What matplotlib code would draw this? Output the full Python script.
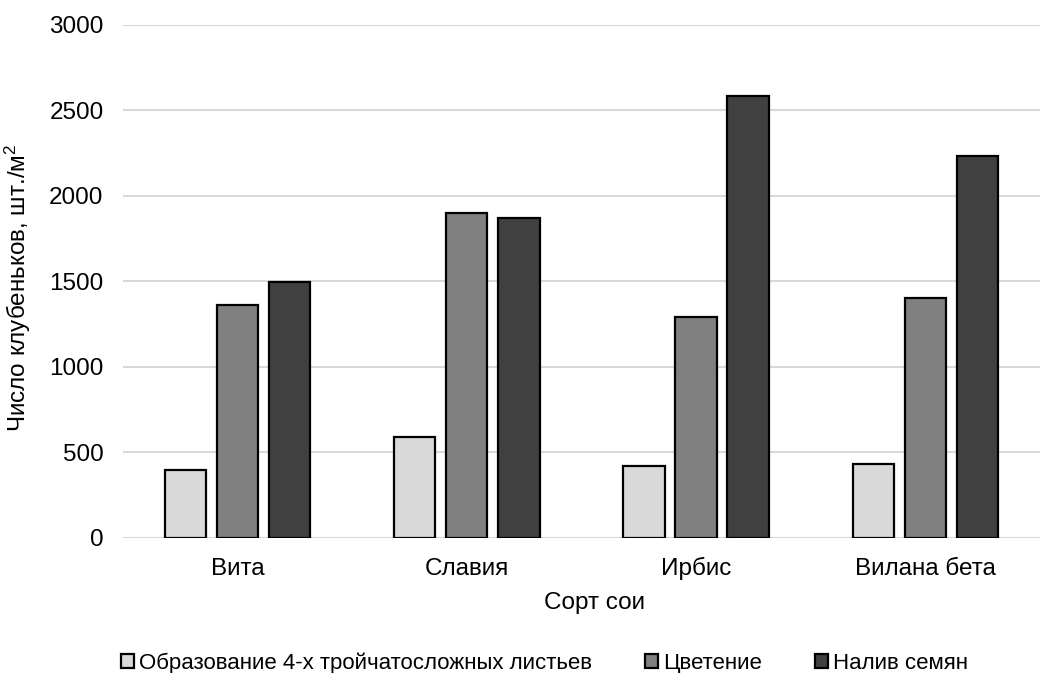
import matplotlib as mpl
import numpy as np

mpl.use("Agg")
from matplotlib import pyplot as plt

plt.rcParams['font.family'] = ['Liberation Sans', 'DejaVu Sans']
plt.rcParams['mathtext.fontset'] = 'custom'
plt.rcParams['mathtext.rm'] = 'Liberation Sans'
plt.rcParams['mathtext.default'] = 'rm'

varieties = ["Вита", "Славия", "Ирбис", "Вилана бета"]
series_names = ["Образование 4-х тройчатосложных листьев", "Цветение", "Налив семян"]
leaf_stage = [398, 593, 421, 433]
flowering = [1362, 1898, 1295, 1401]
seed_fill = [1499, 1871, 2587, 2236]
colors = ["#d9d9d9", "#808080", "#404040"]

fig = plt.figure(figsize=(10.51, 6.73), dpi=100)
ax = fig.add_axes([0.117, 0.2006, 0.8725, 0.7623])

x = np.arange(len(varieties))
offset = 0.227
width = 0.18
for i, (vals, name) in enumerate(zip([leaf_stage, flowering, seed_fill], series_names)):
    ax.bar(x + (i - 1) * offset, vals, width, color=colors[i], edgecolor="black",
           linewidth=1.6, label=name, zorder=3)

ax.set_xlim(-0.5, len(varieties) - 0.5)
ax.set_ylim(0, 3000)
ax.set_yticks(np.arange(0, 3001, 500))
ax.set_xticks(x)
ax.set_xticklabels(varieties)
ax.tick_params(axis="both", length=0, labelsize=17.5, colors="black")
ax.tick_params(axis="y", pad=14)
ax.tick_params(axis="x", pad=27)
for lbl in ax.get_xticklabels():
    lbl.set_verticalalignment("baseline")
ax.grid(axis="y", color="#d9d9d9", linewidth=1.5, zorder=0)
for s in ax.spines.values():
    s.set_visible(False)

ax.set_xlabel("Сорт сои", fontsize=17.5)
ax.xaxis.set_label_coords(0.514, -0.105)
ax.set_ylabel("Число клубеньков, шт./м$^2$", fontsize=17.5)
ax.yaxis.set_label_coords(-0.098, 0.487)

fig.legend(loc="center", bbox_to_anchor=(0.518, 0.015), ncol=3, frameon=False,
           fontsize=16, handlelength=0.6, handleheight=0.6, handletextpad=0.2,
           columnspacing=2.4)

plt.savefig("out.png", dpi=100)
